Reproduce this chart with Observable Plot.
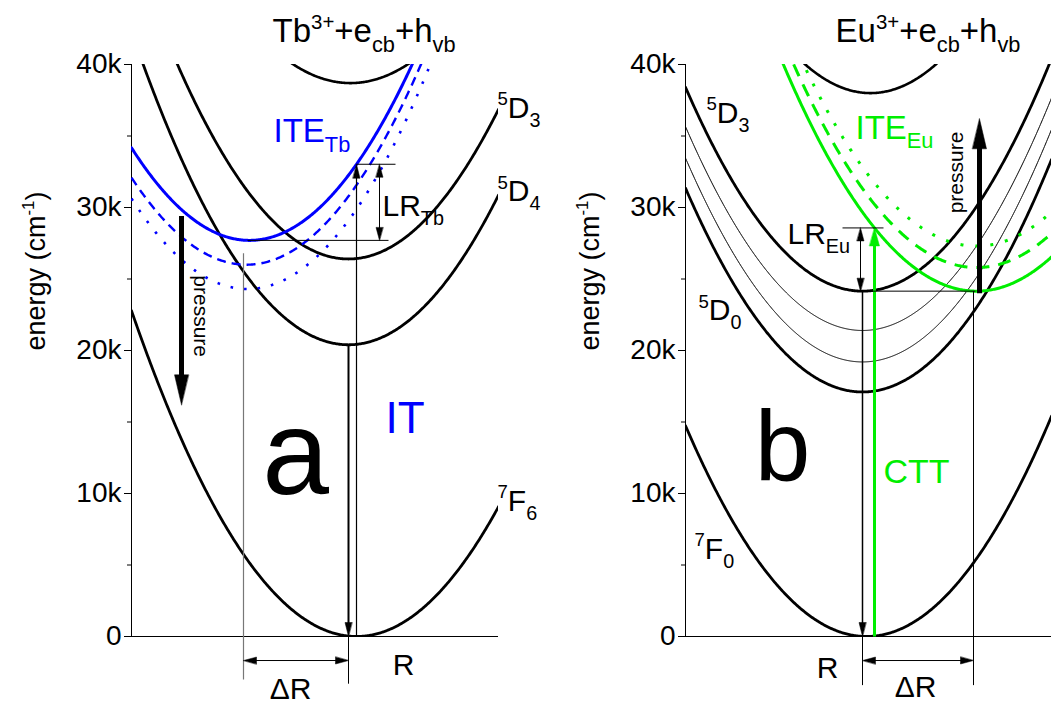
<!DOCTYPE html>
<html><head><meta charset="utf-8">
<script src="https://cdn.jsdelivr.net/npm/d3@7"></script>
<script src="https://cdn.jsdelivr.net/npm/@observablehq/plot@0.6"></script>
<style>
html,body{margin:0;padding:0;background:#fff;}
#wrap{display:flex;width:1051px;height:706px;overflow:hidden;font-family:"Liberation Sans",Arial,sans-serif;}
#wrap svg{overflow:visible;flex:none;}
</style></head>
<body><div id="wrap"></div>
<script>
// ---------- data (energies in cm^-1, configuration coordinate in arbitrary units) ----------
const yTicks = [0, 10000, 20000, 30000, 40000];
const yTickLabels = ["0", "10k", "20k", "30k", "40k"];
const yMinorTicks = [5000, 15000, 25000, 35000];

// panel a: Tb3+
const tbStates = ["Tb3+ + e_cb + h_vb", "5D3", "5D4", "7F6"];
const tbMinR = [219, 217, 217, 225];
const tbMinE = [38700, 26400, 20400, 0];
const tbCurv = [0.40, 0.465, 0.465, 0.45];
const tbIteCases = ["ITE_Tb", "ITE_Tb (pressure)", "ITE_Tb (higher pressure)"];
const tbIteMinR = [118, 115, 116];
const tbIteMinE = [27700, 26000, 24300];
const tbIteCurv = [0.465, 0.46, 0.47];

// panel b: Eu3+
const euStates = ["Eu3+ + e_cb + h_vb", "5D3", "5D2", "5D1", "5D0", "7F0"];
const euMinR = [185, 177, 177, 177, 177, 181];
const euMinE = [38000, 24150, 21400, 19200, 17100, 0];
const euCurv = [0.47, 0.455, 0.455, 0.455, 0.455, 0.45];
const euIteCases = ["ITE_Eu", "ITE_Eu (pressure)", "ITE_Eu (higher pressure)"];
const euIteMinR = [291, 291, 291];
const euIteMinE = [24150, 25800, 27300];
const euIteCurv = [0.425, 0.425, 0.425];

// ---------- helpers ----------
const tbXmax = 367, euXmax = 366;
const ePerPx = 40000 / 572;
const BLUE = "#0000ff", GREEN = "#00ee00";
function curve(r0, e0, k, xmax) {
  const pts = [];
  for (let x = 0; x <= xmax; x += 1) pts.push({x, E: e0 + k * (x - r0) ** 2});
  return pts;
}
const energyAt = (r0, e0, k, x) => e0 + k * (x - r0) ** 2;

const headShape = {
  draw(context, l, r) {
    context.moveTo(0, -l);
    context.lineTo(r, 0);
    context.lineTo(-r, 0);
    context.closePath();
  }
};
function head(x, E, rot, len, r, color) {
  return Plot.vector([0], {x: () => x, y: () => E, rotate: rot, length: len, r, anchor: "end",
    shape: headShape, fill: color, stroke: color, strokeWidth: 0.5});
}
function arrow(x1, E1, x2, E2, {width = 1, color = "black", len = 13, r = 3.5, both = false} = {}) {
  const dxp = x2 - x1, dyp = -(E2 - E1) / ePerPx;
  const L = Math.hypot(dxp, dyp), ux = dxp / L, uy = dyp / L;
  const rot = Math.atan2(ux, -uy) * 180 / Math.PI;
  const back = len * 0.7;
  const sx2 = x2 - ux * back, sE2 = E2 + uy * back * ePerPx;
  let sx1 = x1, sE1 = E1;
  const out = [];
  if (both) { sx1 = x1 + ux * back; sE1 = E1 - uy * back * ePerPx; out.push(head(x1, E1, rot + 180, len, r, color)); }
  out.unshift(Plot.link([0], {x1: () => sx1, y1: () => sE1, x2: () => sx2, y2: () => sE2, stroke: color, strokeWidth: width}));
  out.push(head(x2, E2, rot, len, r, color));
  return out;
}
function seg(x1, E1, x2, E2, color = "black", width = 1) {
  return Plot.link([0], {x1: () => x1, y1: () => E1, x2: () => x2, y2: () => E2, stroke: color, strokeWidth: width});
}
function label(text, x, E, opts = {}) {
  return Plot.text([text], {x: () => x, y: () => E, text: d => d, lineAnchor: "bottom", textAnchor: "start", fontSize: 28, fill: "black", ...opts});
}
function axisMarks(xmax) {
  return [
    Plot.axisY({ticks: yTicks, tickSize: 7, tickPadding: 3, fontSize: 28, tickFormat: d => yTickLabels[yTicks.indexOf(d)], label: null, stroke: "black", color: "black"}),
    Plot.axisY({ticks: yMinorTicks, tickSize: 4, tickFormat: () => "", label: null}),
    Plot.ruleX([0], {y1: 0, y2: 40000, stroke: "black", strokeWidth: 1}),
    Plot.ruleY([0], {x1: 0, x2: xmax, stroke: "black", strokeWidth: 1.2}),
    Plot.text(["energy (cm^{-1})"], {frameAnchor: "left", dx: -95, rotate: -90, text: d => d, fontSize: 27, fill: "black"})
  ];
}
function panel(width, marginLeft, marginRight, xmax, marks) {
  return Plot.plot({
    width, height: 706, marginLeft, marginRight, marginTop: 64, marginBottom: 70,
    x: {domain: [0, xmax], axis: null},
    y: {domain: [0, 40000]},
    style: {fontFamily: "'Liberation Sans', Arial, sans-serif", background: "transparent", overflow: "visible", color: "black"},
    marks: [...axisMarks(xmax), ...marks]
  });
}
const dashed = {strokeLinecap: "butt", clip: true};

// ---------- panel a ----------
const tbCurves = tbStates.map((s, i) => curve(tbMinR[i], tbMinE[i], tbCurv[i], tbXmax));
const tbIte = tbIteCases.map((s, i) => curve(tbIteMinR[i], tbIteMinE[i], tbIteCurv[i], tbXmax));
const tbAbsR = tbMinR[3];
const tbAbsE = energyAt(tbIteMinR[0], tbIteMinE[0], tbIteCurv[0], tbAbsR);

const left = panel(525, 131, 27, tbXmax, [
  ...tbCurves.map((c, i) => Plot.line(c, {x: "x", y: "E", stroke: "black", strokeWidth: i === 0 ? 2.6 : 2.8, clip: true})),
  Plot.line(tbIte[0], {x: "x", y: "E", stroke: BLUE, strokeWidth: 3, clip: true}),
  Plot.line(tbIte[1], {x: "x", y: "E", stroke: BLUE, strokeWidth: 2.4, strokeDasharray: "9,6", ...dashed}),
  Plot.line(tbIte[2], {x: "x", y: "E", stroke: BLUE, strokeWidth: 2.6, strokeDasharray: "2.6,11", ...dashed}),
  // pressure arrow
  ...arrow(50, 29400, 50, 16200, {width: 5, len: 30, r: 7}),
  Plot.text(["pressure"], {x: () => 69, y: () => 22400, text: d => d, rotate: 90, fontSize: 21, fill: "black"}),
  // IT emission arrow
  ...arrow(tbMinR[2], tbMinE[2], tbMinR[2], 0, {width: 2, len: 14, r: 3.5}),
  // absorption to ITE
  ...arrow(tbAbsR, 0, tbAbsR, tbAbsE, {width: 1.2, len: 14, r: 3.5}),
  // LR
  seg(tbAbsR, tbAbsE, tbAbsR + 39, tbAbsE),
  seg(116, tbIteMinE[0], 257, tbIteMinE[0]),
  ...arrow(248, tbIteMinE[0], 248, tbAbsE, {width: 1, len: 13, r: 3.5, both: true}),
  // Delta R
  seg(112, 26800, 112, -3000, "#777", 1.2),
  seg(tbMinR[2], 0, tbMinR[2], -3300, "black", 1),
  ...arrow(112, -1680, tbMinR[2], -1680, {width: 1, len: 13, r: 3.5, both: true}),
  // labels
  label("Tb^{3+}+e_{cb}+h_{vb}", 141, 41540, {fontSize: 33}),
  label("ITE_{Tb}", 142, 34600, {fontSize: 33, fill: BLUE}),
  label("LR_{Tb}", 251, 29440, {fontSize: 30}),
  label("^{5}D_{3}", 366, 36290, {fontSize: 30}),
  label("^{5}D_{4}", 366, 30420, {fontSize: 30}),
  label("^{7}F_{6}", 366, 8810, {fontSize: 30}),
  label("IT", 254, 14200, {fontSize: 44, fill: BLUE}),
  label("a", 164, 10000, {fontSize: 120, textAnchor: "middle"}),
  label("\u0394R", 159, -4400, {fontSize: 30, textAnchor: "middle"}),
  label("R", 272, -2727, {fontSize: 30, textAnchor: "middle"})
]);

// ---------- panel b ----------
const euCurves = euStates.map((s, i) => curve(euMinR[i], euMinE[i], euCurv[i], euXmax));
const euIte = euIteCases.map((s, i) => curve(euIteMinR[i], euIteMinE[i], euIteCurv[i], euXmax));
const cttR = 189;
const cttE = energyAt(euIteMinR[0], euIteMinE[0], euIteCurv[0], cttR);
const euWidths = [2.6, 2.8, 1, 1, 2.8, 2.8];

const right = panel(526, 160, 0, euXmax, [
  ...euCurves.map((c, i) => Plot.line(c, {x: "x", y: "E", stroke: "black", strokeWidth: euWidths[i], clip: true})),
  Plot.line(euIte[0], {x: "x", y: "E", stroke: GREEN, strokeWidth: 3, clip: true}),
  Plot.line(euIte[1], {x: "x", y: "E", stroke: GREEN, strokeWidth: 3, strokeDasharray: "13,9", ...dashed}),
  Plot.line(euIte[2], {x: "x", y: "E", stroke: GREEN, strokeWidth: 3, strokeDasharray: "3,12", ...dashed}),
  // pressure arrow (up)
  ...arrow(294, 24000, 294, 36200, {width: 5, len: 30, r: 7}),
  Plot.text(["pressure"], {x: () => 271, y: () => 32450, text: d => d, rotate: -90, fontSize: 21, fill: "black"}),
  // emission from 5D3
  ...arrow(euMinR[1], euMinE[1], euMinR[1], 0, {width: 1.5, len: 14, r: 3.5}),
  // CTT
  ...arrow(cttR, 0, cttR, cttE, {width: 3, len: 18, r: 5, color: GREEN}),
  // LR Eu
  seg(157, cttE, 198, cttE),
  ...arrow(175, euMinE[1], 175, cttE, {width: 1, len: 13, r: 3.5, both: true}),
  seg(euMinR[1], euMinE[1], euIteMinR[0] - 1, euMinE[1]),
  // Delta R
  seg(288, euMinE[1], 288, -3400, "black", 1),
  seg(euMinR[1], 0, euMinR[1], -3400, "black", 1),
  ...arrow(euMinR[1], -1680, 288, -1680, {width: 1, len: 13, r: 3.5, both: true}),
  // labels
  label("Eu^{3+}+e_{cb}+h_{vb}", 150, 41540, {fontSize: 33}),
  label("^{5}D_{3}", 21, 35940, {fontSize: 30}),
  label("^{5}D_{0}", 13, 22100, {fontSize: 30}),
  label("^{7}F_{0}", 9, 5450, {fontSize: 30}),
  label("b", 97, 10900, {fontSize: 100, textAnchor: "middle"}),
  label("CTT", 198, 10700, {fontSize: 34, fill: GREEN}),
  label("ITE_{Eu}", 170, 34820, {fontSize: 33, fill: GREEN}),
  label("LR_{Eu}", 102, 27480, {fontSize: 30}),
  label("R", 142, -2870, {fontSize: 30, textAnchor: "middle"}),
  label("\u0394R", 230, -4265, {fontSize: 30, textAnchor: "middle"})
]);

const wrap = document.getElementById("wrap");
wrap.appendChild(left);
wrap.appendChild(right);

// rich text: ^{..} superscripts and _{..} subscripts
function richify(svg) {
  svg.querySelectorAll("text").forEach(t => {
    const s = t.textContent;
    if (!/[_^]\{/.test(s)) return;
    const fs = parseFloat(getComputedStyle(t).fontSize) || 20;
    t.textContent = "";
    const re = /([_^])\{([^}]*)\}|([^_^]+)/g;
    let m, shift = 0;
    while ((m = re.exec(s))) {
      const ts = document.createElementNS("http://www.w3.org/2000/svg", "tspan");
      let target = 0, size = fs;
      if (m[1] === "^") { size = fs * 0.62; target = -0.42 * fs; ts.textContent = m[2]; }
      else if (m[1] === "_") { size = fs * 0.66; target = 0.3 * fs; ts.textContent = m[2]; }
      else ts.textContent = m[3];
      ts.setAttribute("font-size", size);
      ts.setAttribute("dy", target - shift);
      shift = target;
      t.appendChild(ts);
    }
  });
}
richify(left);
richify(right);
</script>
</body></html>
